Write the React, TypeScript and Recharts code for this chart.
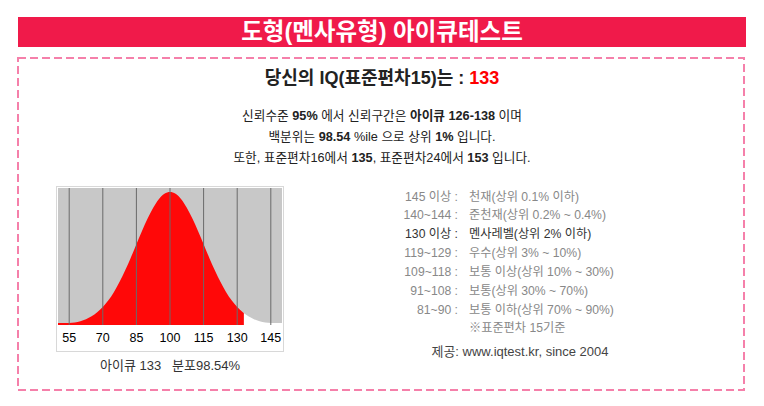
import { AreaChart, Area, XAxis, YAxis, CartesianGrid, ReferenceLine } from 'recharts'

// IQ scores along the x axis and curve height (% of peak)
const scores = [
  50, 52.5, 55, 57.5, 60, 62.5, 65, 67.5, 70, 72.5, 75, 77.5, 80, 82.5, 85, 87.5, 90, 92.5, 95, 97.5,
  100, 102.5, 105, 107.5, 110, 112.5, 115, 117.5, 120, 122.5, 125, 127.5, 130, 132.5, 133,
  135, 137.5, 140, 142.5, 145, 147.5, 150,
]
const heights = [
  1.5, 1.5, 1.5, 1.8, 2.9, 4.4, 6.6, 9.6, 13.5, 18.6, 24.9, 32.5, 41.1, 50.6, 60.7, 70.7, 80.1, 88.2, 94.6, 98.6,
  100, 98.6, 94.6, 88.2, 80.1, 70.7, 60.7, 50.6, 41.1, 32.5, 24.9, 18.6, 13.5, 9.6, 8.9,
  6.6, 4.4, 2.9, 1.8, 1.5, 1.5, 1.5,
]
const myScore = 133
const tickScores = [55, 70, 85, 100, 115, 130, 145]

const gradeLabels = ['145 이상 :', '140~144 :', '130 이상 :', '119~129 :', '109~118 :', '91~108 :', '81~90 :']
const gradeTexts = [
  '천재(상위 0.1% 이하)',
  '준천재(상위 0.2% ~ 0.4%)',
  '멘사레벨(상위 2% 이하)',
  '우수(상위 3% ~ 10%)',
  '보통 이상(상위 10% ~ 30%)',
  '보통(상위 30% ~ 70%)',
  '보통 이하(상위 70% ~ 90%)',
]

const curveData = scores.map((s, i) => ({
  score: s,
  below: s <= myScore ? heights[i] : null,
  above: s >= myScore ? heights[i] : null,
}))

const FONT = '"Liberation Sans", Arial, "Noto Sans CJK KR", sans-serif'

function abs(left: number, top: number, extra: React.CSSProperties = {}): React.CSSProperties {
  return { position: 'absolute', left, top, ...extra }
}

export default function App() {
  return (
    <div style={{ position: 'absolute', left: 0, top: 0, width: 764, height: 406, background: '#fff', fontFamily: FONT }}>
      <div style={abs(18, 17, { width: 728, height: 30, background: '#f01a4a', color: '#fff', fontSize: 23.5, fontWeight: 'bold', textAlign: 'center', lineHeight: '30px' })}>
        도형(멘사유형) 아이큐테스트
      </div>

      <svg width={764} height={406} style={abs(0, 0)}>
        <rect x={18} y={58} width={726} height={332} fill="none" stroke="#f580aa" strokeWidth={2} strokeDasharray="8 4" />
      </svg>

      <div style={abs(0, 66, { width: 764, textAlign: 'center', fontSize: 18, fontWeight: 'bold', lineHeight: '24px', color: '#222' })}>
        당신의 IQ(표준편차15)는 : <span style={{ color: '#ff0000' }}>133</span>
      </div>

      <div style={abs(0, 105.5, { width: 764, textAlign: 'center', fontSize: 12.7, lineHeight: '21px', color: '#222' })}>
        <div>신뢰수준 <b>95%</b> 에서 신뢰구간은 <b>아이큐 126-138</b> 이며</div>
        <div>백분위는 <b>98.54</b> %ile 으로 상위 <b>1%</b> 입니다.</div>
        <div>또한, 표준편차16에서 <b>135</b>, 표준편차24에서 <b>153</b> 입니다.</div>
      </div>

      <div style={abs(56, 186, { width: 228, height: 166, border: '1px solid #d8d8d8', boxSizing: 'border-box', background: '#fff' })}>
        <AreaChart width={226} height={164} data={curveData} margin={{ top: 1, right: 1, bottom: 0, left: 1 }}>
          <CartesianGrid horizontal={false} vertical={false} fill="#c8c8c8" fillOpacity={1} />
          <XAxis
            dataKey="score"
            type="number"
            domain={[50, 150]}
            ticks={tickScores}
            height={26}
            axisLine={false}
            tickLine={false}
            interval={0}
            tick={{ fill: '#000', fontSize: 12.5, fontFamily: '"Liberation Sans Narrow", "Liberation Sans", Arial' }}
          />
          <YAxis hide domain={[0, 103]} />
          <Area dataKey="below" type="monotone" stroke="none" fill="#ff0808" fillOpacity={1} isAnimationActive={false} />
          <Area dataKey="above" type="monotone" stroke="none" fill="#ffffff" fillOpacity={1} isAnimationActive={false} />
          {tickScores.map((t) => (
            <ReferenceLine key={t} x={t} stroke="#6a6a6a" strokeWidth={1} />
          ))}
        </AreaChart>
      </div>

      <div style={abs(56, 356, { width: 228, textAlign: 'center', fontSize: 13, lineHeight: '20px', color: '#333' })}>
        아이큐 133&nbsp;&nbsp;&nbsp;분포98.54%
      </div>

      {gradeLabels.map((label, i) => (
        <div key={label} style={abs(360, 187.5 + i * 18.85, { width: 400, height: 19, lineHeight: '19px', fontSize: 12.2, color: i === 2 ? '#333' : '#888' })}>
          <span style={{ position: 'absolute', right: 302, whiteSpace: 'nowrap' }}>{label}</span>
          <span style={{ position: 'absolute', left: 109, whiteSpace: 'nowrap' }}>{gradeTexts[i]}</span>
        </div>
      ))}
      <div style={abs(469, 319, { lineHeight: '19px', fontSize: 12.2, color: '#888', whiteSpace: 'nowrap' })}>※표준편차 15기준</div>

      <div style={abs(420, 342, { width: 200, textAlign: 'center', lineHeight: '20px', fontSize: 13, color: '#444', whiteSpace: 'nowrap' })}>
        제공: www.iqtest.kr, since 2004
      </div>
    </div>
  )
}
